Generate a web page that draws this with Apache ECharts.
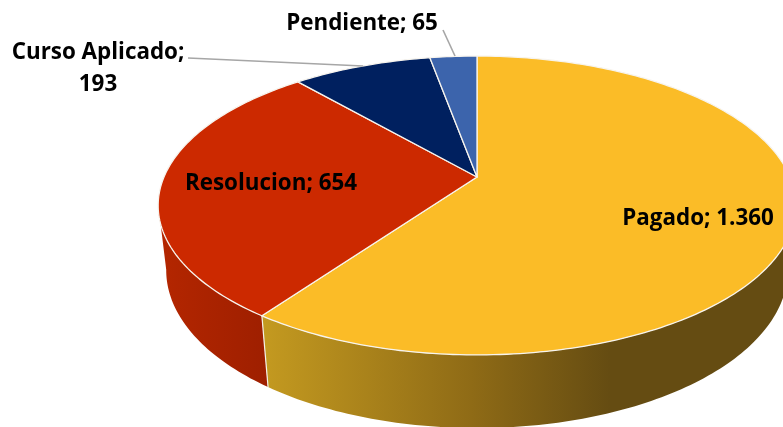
<!DOCTYPE html>
<html>
<head>
<meta charset="utf-8">
<style>
  html, body { margin: 0; padding: 0; background: #fff; overflow: hidden; }
  #chart { width: 783px; height: 427px; }
</style>
<script src="https://cdn.jsdelivr.net/npm/echarts@6/dist/echarts.min.js"></script>
</head>
<body>
<div id="chart"></div>
<script>
// clockwise from the back of the disc
const categories = ["Pagado", "Resolucion", "Curso Aplicado", "Pendiente"];
const values = [1360, 654, 193, 65];

const topColors = ["#FBBC27", "#CC2900", "#00205F", "#3C64AC"];

// perspective of the disc
const CX = 477, CY = 177;
const RX = 313, RY = 144;
const TILT = 0.1906;
const DEPTH = 65.5, DEPTH_W = 0.025;

const total = values.reduce((a, b) => a + b, 0);

function project(deg, h) {
  const t = deg * Math.PI / 180;
  const u = Math.sin(t), v = -Math.cos(t);
  const w = 1 - TILT * v + DEPTH_W * h;
  return [CX + RX * u / w, CY + (RY * v + DEPTH * h) / w];
}

function sliceAngles(index) {
  let before = 0;
  for (let i = 0; i < index; i++) before += values[i];
  return [before / total * 360, (before + values[index]) / total * 360];
}

function arc(a0, a1, h) {
  const pts = [];
  const n = Math.max(2, Math.ceil(a1 - a0));
  for (let i = 0; i <= n; i++) pts.push(project(a0 + (a1 - a0) * i / n, h));
  return pts;
}

// angles where the lower rim is widest: only the part between them faces us
let frontFrom = 0, frontTo = 360;
for (let d = 0, minX = Infinity, maxX = -Infinity; d < 360; d += 0.5) {
  const x = project(d, 1)[0];
  if (x > maxX) { maxX = x; frontFrom = d; }
  if (x < minX) { minX = x; frontTo = d; }
}

const sideFills = [
  new echarts.graphic.LinearGradient(262, 0, 610, 0, [
    { offset: 0, color: "#C49A20" },
    { offset: 0.6, color: "#8F6B16" },
    { offset: 1, color: "#654C12" }
  ], true),
  new echarts.graphic.LinearGradient(160, 0, 268, 0, [
    { offset: 0, color: "#B42600" },
    { offset: 1, color: "#9E1F00" }
  ], true),
  "#00184A",
  "#2E4C84"
];

function renderSide(params) {
  const i = params.dataIndex;
  const [a0, a1] = sliceAngles(i);
  const from = Math.max(a0, frontFrom), to = Math.min(a1, frontTo);
  if (to <= from) return null;
  const points = arc(from, to, 0).concat(arc(from, to, 1).reverse());
  return {
    type: "polygon",
    shape: { points: points },
    style: { fill: sideFills[i] }
  };
}

function renderSeam(params) {
  const [a0] = sliceAngles(params.dataIndex);
  const p = project(a0, 0), q = project(a0, 1);
  return {
    type: "line",
    shape: { x1: p[0], y1: p[1], x2: q[0], y2: q[1] },
    style: { stroke: "#F4F1EA", lineWidth: 1.2 }
  };
}

function renderTop(params) {
  const i = params.dataIndex;
  const [a0, a1] = sliceAngles(i);
  const points = [[CX, CY]].concat(arc(a0, a1, 0));
  return {
    type: "polygon",
    shape: { points: points },
    style: { fill: topColors[i], stroke: "#F7F4EE", lineWidth: 1.3, lineJoin: "round" }
  };
}

function labelText(i) {
  const v = String(values[i]).replace(/\B(?=(\d{3})+$)/g, ".");
  const sep = categories[i] === "Curso Aplicado" ? ";\n" : "; ";
  return categories[i] + sep + v;
}

const labelSpots = [[698, 219], [271, 184], [98, 69], [362, 24]];

function textEl(i) {
  return {
    type: "text",
    style: {
      x: labelSpots[i][0], y: labelSpots[i][1],
      text: labelText(i),
      fill: "#000",
      font: "bold 22.4px 'Open Sans', Lato, sans-serif",
      lineHeight: 32,
      align: "center",
      verticalAlign: "middle"
    }
  };
}

const leaderEls = [
  [[188, 58], [363, 66]],
  [[443, 30], [455, 56]]
].map(p => ({
  type: "line",
  shape: { x1: p[0][0], y1: p[0][1], x2: p[1][0], y2: p[1][1] },
  style: { stroke: "#A6A6A6", lineWidth: 1.6 }
}));

const chart = echarts.init(document.getElementById("chart"), null, { renderer: "canvas" });
chart.setOption({
  animation: false,
  backgroundColor: "#fff",
  graphic: {
    elements: leaderEls.map(e => Object.assign({ z: 50 }, e))
      .concat(categories.map((c, i) => Object.assign({ z: 60 }, textEl(i))))
  },
  series: [
    { type: "custom", coordinateSystem: "none", z: 1, data: values, renderItem: renderSide, silent: true },
    { type: "custom", coordinateSystem: "none", z: 2, data: values, renderItem: renderSeam, silent: true },
    { type: "custom", coordinateSystem: "none", z: 3, data: values, renderItem: renderTop, silent: true }
  ]
});
</script>
</body>
</html>
